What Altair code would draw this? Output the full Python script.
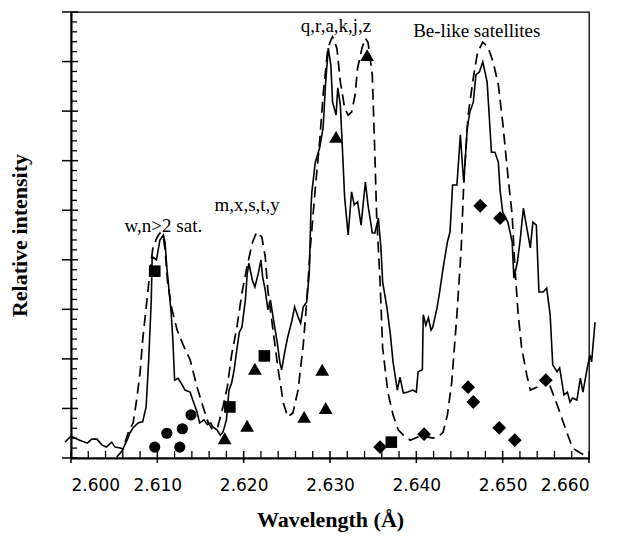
import altair as alt
import pandas as pd

# ---------------- data ----------------
solid_x = [2.5993, 2.6000, 2.6010, 2.6019, 2.6024, 2.6030, 2.6036, 2.6041, 2.6047, 2.6051,
           2.6057, 2.6060, 2.6065, 2.6068, 2.6072, 2.6078, 2.6083, 2.6087, 2.6090, 2.6093,
           2.6094, 2.6099, 2.6103, 2.6107, 2.6109, 2.6111, 2.6116, 2.6118, 2.6120, 2.6124,
           2.6129, 2.6132, 2.6138, 2.6141, 2.6146, 2.6149, 2.6154, 2.6158, 2.6162, 2.6164,
           2.6169, 2.6173, 2.6176, 2.6180, 2.6183, 2.6186, 2.6189, 2.6192, 2.6195, 2.6198,
           2.6202, 2.6204, 2.6206, 2.6210, 2.6213, 2.6217, 2.6220, 2.6222, 2.6225, 2.6228,
           2.6231, 2.6234, 2.6239, 2.6242, 2.6244, 2.6248, 2.6251, 2.6256, 2.6259, 2.6263,
           2.6266, 2.6269, 2.6273, 2.6276, 2.6278, 2.6279, 2.6283, 2.6288, 2.6292, 2.6295,
           2.6298, 2.6301, 2.6303, 2.6307, 2.6309, 2.6312, 2.6314, 2.6317, 2.6321, 2.6325,
           2.6328, 2.6332, 2.6336, 2.6341, 2.6344, 2.6349, 2.6352, 2.6356, 2.6359, 2.6361,
           2.6366, 2.6370, 2.6373, 2.6378, 2.6381, 2.6385, 2.6390, 2.6396, 2.6400, 2.6402,
           2.6407, 2.6408, 2.6411, 2.6414, 2.6417, 2.6419, 2.6424, 2.6427, 2.6431, 2.6436,
           2.6439, 2.6442, 2.6447, 2.6451, 2.6454, 2.6455, 2.6459, 2.6462, 2.6466, 2.6469,
           2.6473, 2.6477, 2.6482, 2.6487, 2.6491, 2.6495, 2.6497, 2.6500, 2.6506, 2.6511,
           2.6513, 2.6517, 2.6520, 2.6524, 2.6528, 2.6532, 2.6535, 2.6539, 2.6542, 2.6547,
           2.6551, 2.6555, 2.6558, 2.6563, 2.6566, 2.6571, 2.6575, 2.6578, 2.6581, 2.6586,
           2.6590, 2.6593, 2.6598, 2.6601, 2.6603, 2.6607]
solid_y = [0.32, 0.44, 0.36, 0.30, 0.38, 0.38, 0.26, 0.22, 0.32, 0.22,
           0.20, 0.18, 0.36, 0.50, 0.61, 0.71, 0.73, 1.03, 1.98, 3.19,
           4.06, 4.00, 4.40, 4.50, 4.34, 3.85, 2.93, 2.38, 1.57, 1.61,
           1.47, 1.37, 1.33, 1.17, 0.93, 0.71, 0.77, 0.67, 0.71, 0.63,
           0.57, 0.46, 0.52, 0.77, 1.37, 1.51, 1.78, 2.18, 2.54, 2.64,
           3.19, 3.69, 3.93, 3.59, 3.45, 3.73, 4.00, 3.65, 3.39, 2.99,
           3.19, 2.85, 2.32, 1.92, 1.78, 2.18, 2.44, 2.78, 3.05, 2.85,
           2.72, 3.05, 3.15, 3.73, 5.06, 5.37, 5.97, 6.26, 6.66, 7.59,
           8.27, 7.93, 7.18, 6.92, 7.47, 7.12, 6.38, 5.25, 4.50, 5.37,
           5.11, 5.17, 4.70, 5.57, 5.11, 4.54, 4.54, 4.84, 4.24, 3.55,
           3.03, 2.48, 1.94, 1.37, 1.63, 1.31, 1.33, 1.37, 1.33, 1.74,
           1.78, 2.89, 2.68, 2.83, 2.58, 2.64, 3.03, 3.35, 3.83, 4.36,
           4.56, 5.51, 5.51, 6.52, 5.77, 5.57, 6.66, 6.98, 7.18, 7.73,
           7.79, 7.99, 7.59, 6.17, 6.17, 5.97, 5.41, 4.96, 4.76, 4.36,
           3.63, 3.95, 4.36, 5.04, 4.64, 4.24, 4.76, 4.70, 3.35, 3.35,
           3.43, 2.89, 1.88, 1.74, 1.82, 1.27, 1.33, 1.13, 1.21, 1.17,
           1.61, 1.33, 1.82, 2.08, 1.94, 2.74]

dash_x = [2.6053, 2.6060, 2.6066, 2.6072, 2.6076, 2.6080, 2.6083, 2.6088, 2.6092, 2.6095,
          2.6100, 2.6103, 2.6107, 2.6109, 2.6112, 2.6117, 2.6123, 2.6130, 2.6138, 2.6146,
          2.6153, 2.6159, 2.6164, 2.6170, 2.6176, 2.6181, 2.6186, 2.6192, 2.6198, 2.6204,
          2.6210, 2.6215, 2.6221, 2.6225, 2.6228, 2.6234, 2.6240, 2.6246, 2.6251, 2.6257,
          2.6263, 2.6269, 2.6273, 2.6277, 2.6283, 2.6288, 2.6292, 2.6297, 2.6300, 2.6303,
          2.6308, 2.6312, 2.6317, 2.6321, 2.6325, 2.6329, 2.6332, 2.6337, 2.6341, 2.6344,
          2.6349, 2.6352, 2.6354, 2.6358, 2.6361, 2.6367, 2.6373, 2.6379, 2.6385, 2.6393,
          2.6401, 2.6408, 2.6414, 2.6419, 2.6425, 2.6431, 2.6436, 2.6441, 2.6447, 2.6452,
          2.6455, 2.6460, 2.6466, 2.6471, 2.6477, 2.6483, 2.6489, 2.6495, 2.6500, 2.6506,
          2.6511, 2.6514, 2.6518, 2.6522, 2.6528, 2.6532, 2.6540, 2.6547, 2.6551, 2.6558,
          2.6564, 2.6572, 2.6581, 2.6590, 2.6599]
dash_y = [0.02, 0.16, 0.50, 0.71, 1.17, 1.72, 2.38, 3.19, 3.85, 4.26,
          4.46, 4.54, 4.44, 4.20, 3.53, 2.99, 2.58, 2.28, 1.98, 1.43,
          1.03, 0.71, 0.57, 0.63, 1.03, 1.43, 2.08, 2.62, 3.33, 3.87,
          4.34, 4.56, 4.46, 4.06, 3.39, 2.58, 1.78, 1.11, 0.83, 0.91,
          1.37, 2.28, 3.15, 4.20, 5.45, 6.38, 7.32, 8.19, 8.39, 8.50,
          8.27, 7.59, 7.06, 6.92, 6.98, 7.32, 7.87, 8.27, 8.47, 8.39,
          7.73, 6.11, 4.90, 3.55, 2.22, 1.33, 0.87, 0.57, 0.46, 0.36,
          0.42, 0.46, 0.42, 0.40, 0.42, 0.52, 0.87, 1.53, 2.89, 4.24,
          5.57, 6.92, 7.67, 8.19, 8.39, 8.29, 7.99, 7.53, 6.78, 5.71,
          4.90, 3.89, 2.89, 2.22, 1.67, 1.37, 1.43, 1.61, 1.63, 1.31,
          1.03, 0.63, 0.20, 0.10, 0.02]

circle_x = [2.6097, 2.6111, 2.6129, 2.6126, 2.6139]
circle_y = [0.22, 0.50, 0.59, 0.22, 0.87]

square_x = [2.6097, 2.6184, 2.6224, 2.6371]
square_y = [3.77, 1.03, 2.06, 0.32]

triangle_x = [2.6178, 2.6204, 2.6213, 2.6270, 2.6291, 2.6295, 2.6307, 2.6343]
triangle_y = [0.40, 0.65, 1.80, 0.83, 1.78, 1.01, 6.48, 8.13]

diamond_x = [2.6358, 2.6409, 2.6460, 2.6466, 2.6474, 2.6497, 2.6496, 2.6514, 2.6550]
diamond_y = [0.22, 0.48, 1.43, 1.13, 5.09, 4.84, 0.61, 0.36, 1.57]

label_text = ["w,n>2 sat.", "m,x,s,t,y", "q,r,a,k,j,z", "Be-like satellites"]
label_x = [2.6107, 2.6204, 2.6307, 2.6470]
label_y = [4.56, 4.98, 8.60, 8.50]

x_major = [2.600, 2.610, 2.620, 2.630, 2.640, 2.650, 2.660]
x_minor = [round(2.600 + 0.002 * i, 3) for i in range(31) if i % 5 != 0]
y_major = list(range(10))
y_minor = [round(0.2 * i, 1) for i in range(46) if i % 5 != 0]

# ---------------- chart ----------------
W, H = 518, 446
xs = alt.Scale(domain=[2.600, 2.660], nice=False, zero=False)
ys = alt.Scale(domain=[0, 9], nice=False, zero=False)

solid_df = pd.DataFrame({"x": solid_x, "y": solid_y, "i": range(len(solid_x))})
dash_df = pd.DataFrame({"x": dash_x, "y": dash_y, "i": range(len(dash_x))})

x_axis = alt.Axis(values=x_major, format=".3f", grid=False, ticks=False, tickSize=0,
                  labelFont="DejaVu Sans", labelFontSize=17, labelColor="black",
                  labelPadding=19, domainColor="black", domainWidth=2,
                  title="Wavelength (Å)", titleFont="Liberation Serif", titleFontSize=22,
                  titleFontWeight="bold", titleColor="black", titlePadding=16)
y_axis = alt.Axis(labels=False, grid=False, ticks=False, tickSize=0,
                  domainColor="black", domainWidth=2,
                  title="Relative intensity", titleFont="Liberation Serif", titleFontSize=22,
                  titleFontWeight="bold", titleColor="black", titlePadding=40)

solid = alt.Chart(solid_df).mark_line(color="black", strokeWidth=1.6).encode(
    x=alt.X("x:Q", scale=xs, axis=x_axis),
    y=alt.Y("y:Q", scale=ys, axis=y_axis),
    order="i:Q",
)
dashed = alt.Chart(dash_df).mark_line(color="black", strokeWidth=1.7, strokeDash=[11, 6]).encode(
    x=alt.X("x:Q", scale=xs), y=alt.Y("y:Q", scale=ys), order="i:Q"
)


def markers(xv, yv, shape, size):
    df = pd.DataFrame({"x": xv, "y": yv})
    return alt.Chart(df).mark_point(shape=shape, filled=True, color="black", opacity=1,
                                    size=size).encode(
        x=alt.X("x:Q", scale=xs), y=alt.Y("y:Q", scale=ys))


circles = markers(circle_x, circle_y, "circle", 125)
squares = markers(square_x, square_y, "square", 135)
triangles = markers(triangle_x, triangle_y, "triangle-up", 190)
diamonds = markers(diamond_x, diamond_y, "diamond", 190)

labels = alt.Chart(pd.DataFrame({"x": label_x, "y": label_y, "t": label_text})).mark_text(
    font="Liberation Serif", fontSize=19, color="black", align="center", baseline="alphabetic"
).encode(x=alt.X("x:Q", scale=xs), y=alt.Y("y:Q", scale=ys), text="t:N")

xt_major = alt.Chart(pd.DataFrame({"v": x_major})).mark_rule(color="black", strokeWidth=1.5).encode(
    x=alt.X("v:Q", scale=xs), y=alt.value(H + 5), y2=alt.value(H - 7))
xt_minor = alt.Chart(pd.DataFrame({"v": x_minor})).mark_rule(color="black", strokeWidth=1.3).encode(
    x=alt.X("v:Q", scale=xs), y=alt.value(H), y2=alt.value(H - 7))
yt_major = alt.Chart(pd.DataFrame({"v": y_major})).mark_rule(color="black", strokeWidth=1.5).encode(
    y=alt.Y("v:Q", scale=ys), x=alt.value(-9), x2=alt.value(7))
yt_minor = alt.Chart(pd.DataFrame({"v": y_minor})).mark_rule(color="black", strokeWidth=1.3).encode(
    y=alt.Y("v:Q", scale=ys), x=alt.value(0), x2=alt.value(6))

chart = alt.layer(
    solid, dashed, circles, squares, triangles, diamonds, labels,
    xt_major, xt_minor, yt_major, yt_minor
).properties(
    width=W, height=H,
    autosize=alt.AutoSizeParams(type="none"),
    padding={"left": 71, "top": 12, "right": 34, "bottom": 80},
    background="white",
).configure_view(stroke="black", strokeWidth=1.3)

chart.save("out.html", embed_options={"renderer": "svg", "actions": False})
